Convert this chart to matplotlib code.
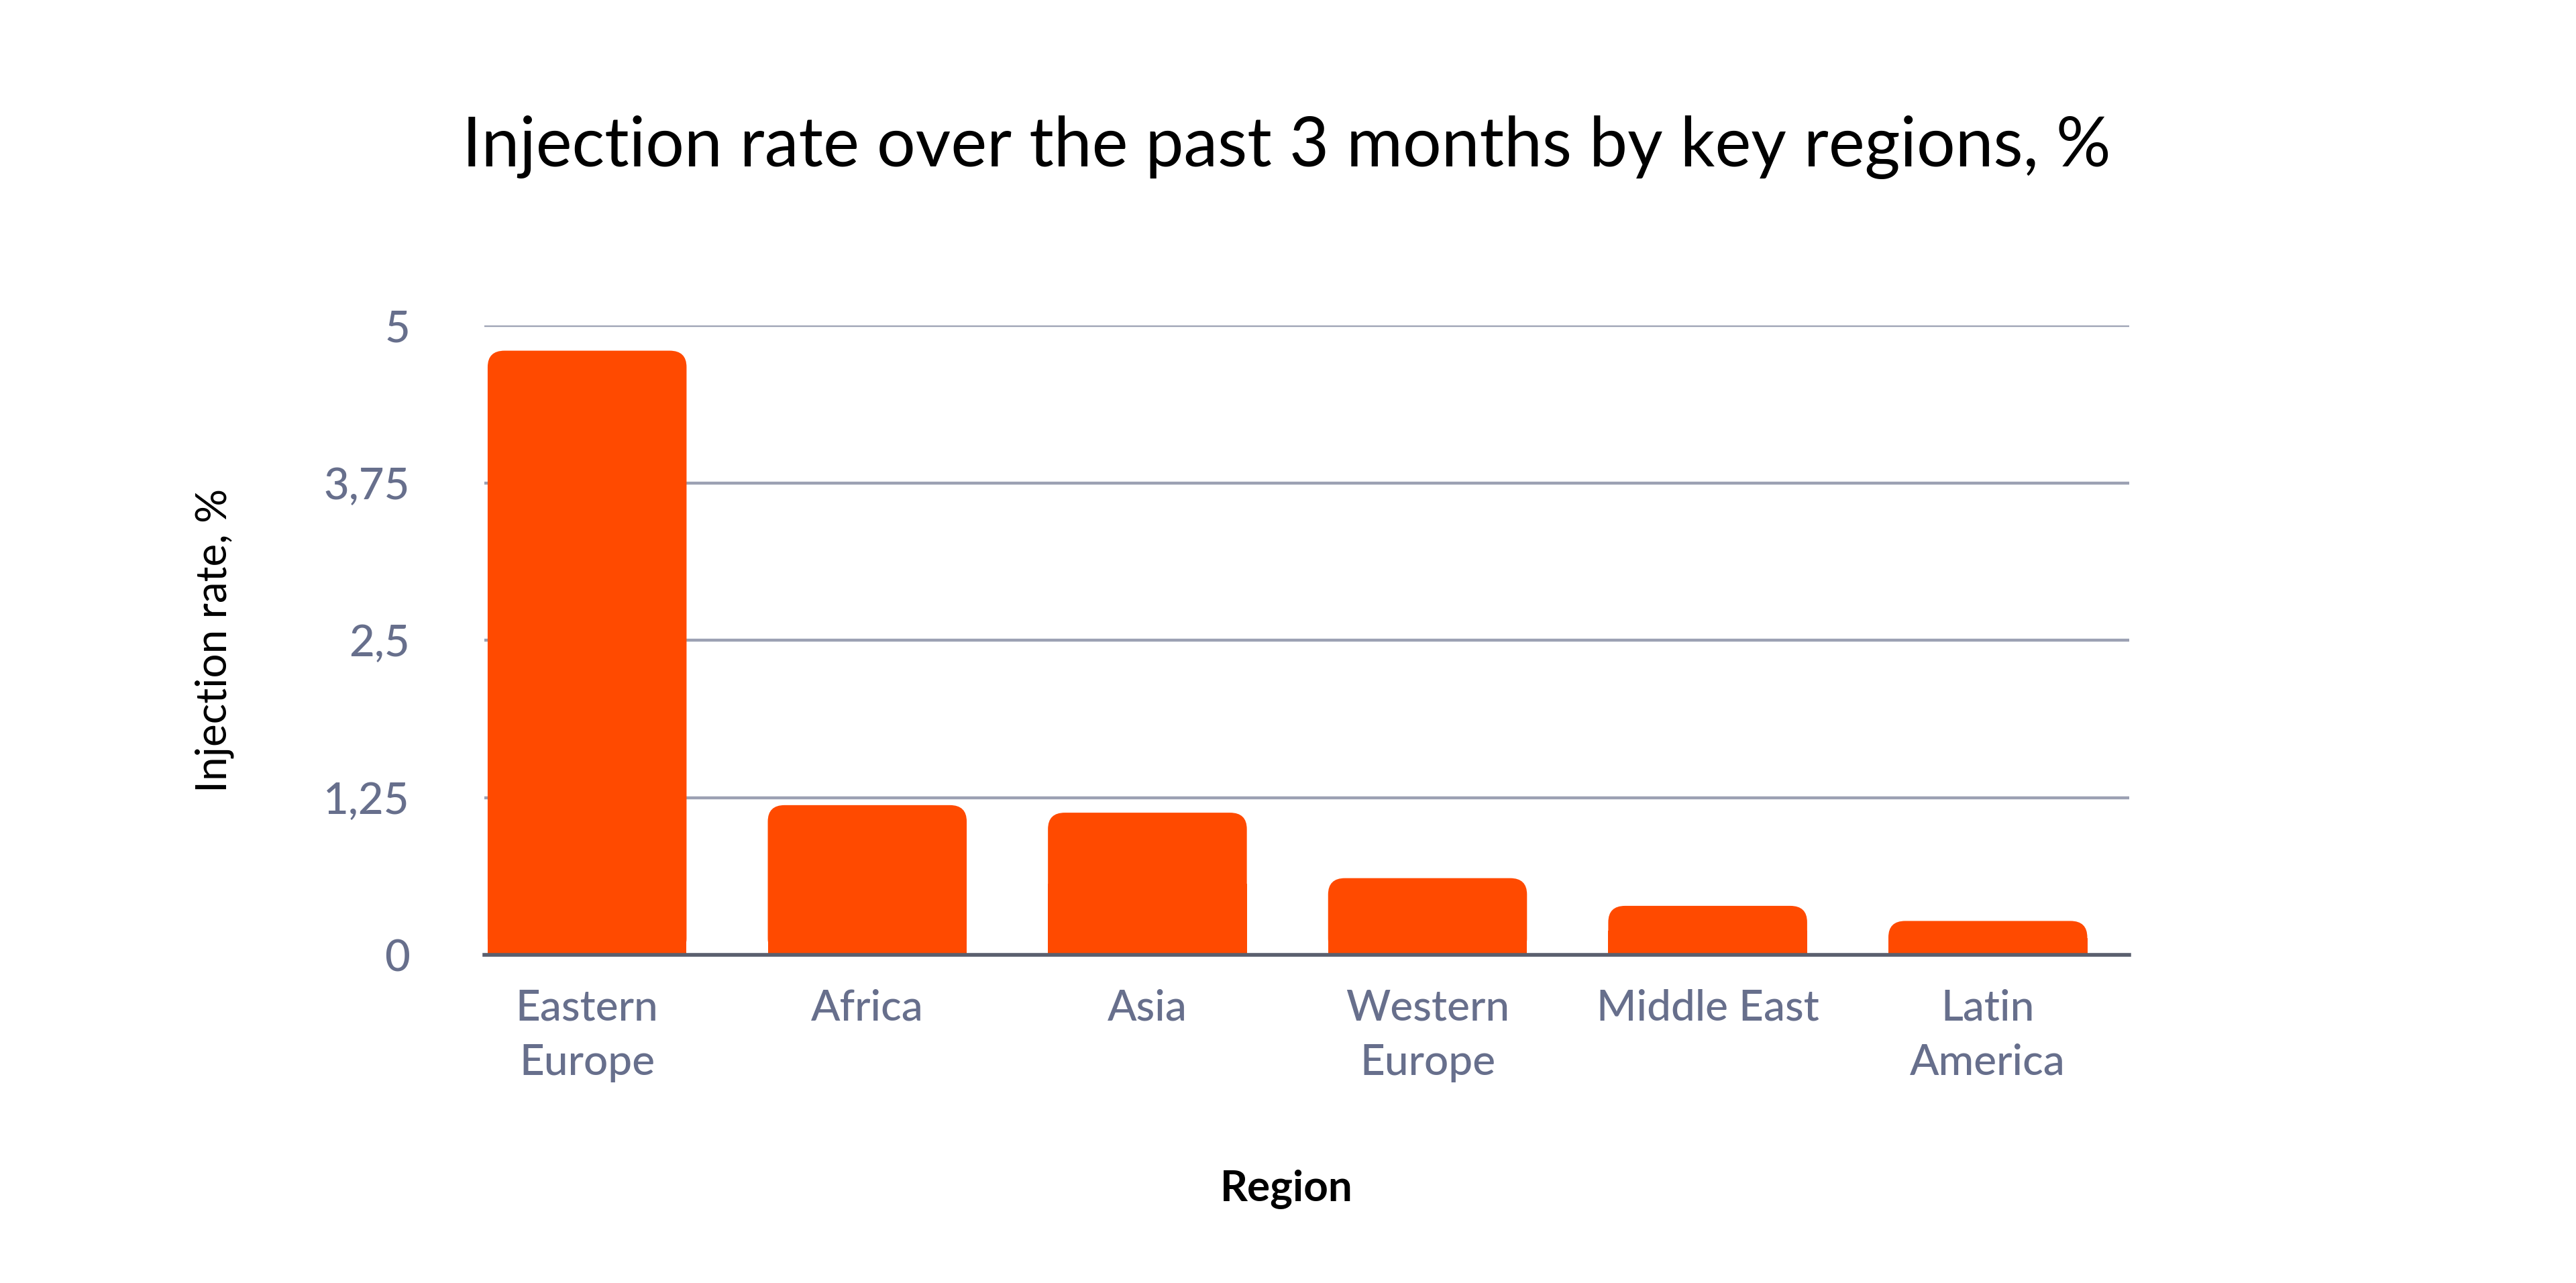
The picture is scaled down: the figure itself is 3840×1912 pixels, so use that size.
import matplotlib
matplotlib.use("Agg")
import matplotlib.pyplot as plt
from matplotlib.patches import FancyBboxPatch, Rectangle
from matplotlib.ticker import FixedLocator, FixedFormatter

plt.rcParams['font.family'] = ['Lato', 'DejaVu Sans']

regions = ['Eastern\nEurope', 'Africa', 'Asia', 'Western\nEurope', 'Middle East', 'Latin\nAmerica']
rates = [4.8, 1.19, 1.13, 0.61, 0.39, 0.27]
yticks = [0, 1.25, 2.5, 3.75, 5]
ytick_labels = ['0', '1,25', '2,5', '3,75', '5']

bar_color = '#FF4A00'
tick_color = '#676F8C'

fig = plt.figure(figsize=(19.2, 9.56), dpi=200)
ax = fig.add_axes([0.188, 0.2557, 0.6386, 0.4906])

x = list(range(len(regions)))
bars = ax.bar(x, rates, width=0.71, color=bar_color, zorder=3)

# swap plain bars for ones with rounded top corners
rx = 0.06
ry = 0.13
for b in bars:
    x0, w, h = b.get_x(), b.get_width(), b.get_height()
    b.set_visible(False)
    r = min(ry, h / 2)
    top = FancyBboxPatch((x0 + rx, r), w - 2 * rx, h - 2 * r,
                         boxstyle=f"round,pad=0,rounding_size={rx}",
                         mutation_aspect=r / rx, linewidth=0,
                         facecolor=bar_color, zorder=3)
    top.set_boxstyle("round", pad=rx, rounding_size=rx)
    ax.add_patch(top)
    ax.add_patch(Rectangle((x0, 0), w, h / 2, facecolor=bar_color,
                           linewidth=0, zorder=3))

ax.set_xlim(-0.367, 5.505)
ax.set_ylim(0, 5)

ax.yaxis.set_major_locator(FixedLocator(yticks))
ax.yaxis.set_major_formatter(FixedFormatter(ytick_labels))
ax.set_xticks(x)
ax.set_xticklabels(regions, linespacing=1.5)

ax.grid(axis='y', color='#9CA1B3', linewidth=1.6, zorder=0)
for s in ['top', 'right', 'left']:
    ax.spines[s].set_visible(False)
ax.spines['bottom'].set_color('#5A5F6E')
ax.spines['bottom'].set_linewidth(2)
ax.spines['bottom'].set_zorder(4)

ax.tick_params(axis='y', length=0, pad=40, labelsize=23.5, labelcolor=tick_color)
ax.tick_params(axis='x', length=0, pad=18, labelsize=23, labelcolor=tick_color)
for lbl in ax.get_xticklabels() + ax.get_yticklabels():
    lbl.set_fontweight('medium')

ax.set_ylabel('Injection rate, %', fontsize=23, color='black')
ax.yaxis.set_label_coords(-0.152, 0.5)
ax.set_xlabel('Region', fontsize=23, color='black', fontweight='bold')
ax.xaxis.set_label_coords(0.4875, -0.371)
ax.xaxis.label.set_va('center')

fig.text(0.4995, 0.885, 'Injection rate over the past 3 months by key regions, %',
         ha='center', va='center', fontsize=36.7, color='black')

fig.savefig('out.png', dpi=200, facecolor='white')
